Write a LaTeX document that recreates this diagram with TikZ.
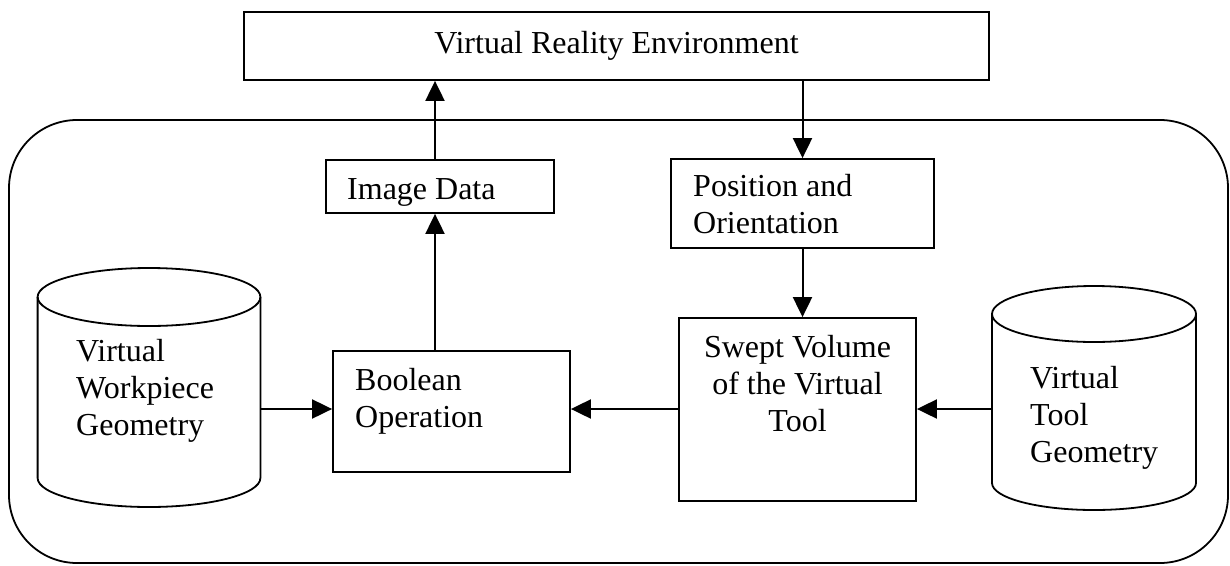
\documentclass[tikz,border=0pt]{standalone}
\usepackage{fontspec}
\setmainfont{Liberation Serif}
\usetikzlibrary{arrows.meta}
\tikzset{
  box/.style={draw, line width=1.8pt, inner sep=0pt},
  holder/.style={inner sep=0pt},
  outline/.style={line width=1.8pt},
  arr/.style={-{Triangle[length=20pt,width=19pt]}, line width=2pt},
  txt/.style={inner sep=0pt, align=left, font=\fontsize{32}{37}\selectfont},
}
\begin{document}
\begin{tikzpicture}[x=1pt,y=-1pt]
\useasboundingbox (0,0) rectangle (1230,565);
% outer system boundary
\node[box, rounded corners=68pt, minimum width=1219pt, minimum height=443pt] (sys) at (618.5,341.5) {};
% boxes
\node[box, minimum width=745pt, minimum height=68pt, font=\fontsize{32}{37}\selectfont] (vr) at (616.5,46) {Virtual Reality Environment};
\node[box, minimum width=228pt, minimum height=53pt] (img) at (440,186.5) {};
\node[box, minimum width=263pt, minimum height=89pt] (pos) at (802.5,203.5) {};
\node[box, minimum width=237pt, minimum height=121pt] (bool) at (451.5,411.5) {};
\node[box, minimum width=237pt, minimum height=183pt] (swept) at (797.5,409.5) {};
% cylinders
\node[holder, minimum width=222.8pt, minimum height=181pt] (wp) at (149,387.5) {};
\draw[outline] (37.6,297) -- (37.6,478) .. controls (37.6,494) and (87.5,507) .. (149,507)
  .. controls (210.5,507) and (260.4,494) .. (260.4,478) -- (260.4,297);
\draw[outline] (149,297) ellipse [x radius=111.4, y radius=29];
\node[holder, minimum width=204pt, minimum height=169pt] (tool) at (1094,398.5) {};
\draw[outline] (992,314) -- (992,483) .. controls (992,497.9) and (1037.7,510) .. (1094,510)
  .. controls (1150.3,510) and (1196,497.9) .. (1196,483) -- (1196,314);
\draw[outline] (1094,314) ellipse [x radius=102, y radius=28];
% texts (multi-line nodes: base anchor = last line)
\node[txt, anchor=base west] (imgT) at (347,199) {Image Data};
\node[txt, anchor=base west] (posT) at (693,233) {Position and\\Orientation};
\node[txt, anchor=base west] (boolT) at (355,427) {Boolean\\Operation};
\node[txt, anchor=base, align=center] (sweptT) at (797.5,431) {Swept Volume\\of the Virtual\\Tool};
\node[txt, anchor=base west] (wpT) at (76,435) {Virtual\\Workpiece\\Geometry};
\node[txt, anchor=base west] (toolT) at (1030,462) {Virtual\\Tool\\Geometry};
% connectors
\coordinate (ax) at (435,0);
\coordinate (ay) at (0,409);
\draw[arr] (img.north -| ax) -- (vr.south -| ax);
\draw[arr] (bool.north -| ax) -- (img.south -| ax);
\draw[arr] (vr.south -| pos.north) -- (pos.north);
\draw[arr] (pos.south) -- (pos.south |- swept.north);
\draw[arr] (swept.west |- ay) -- (bool.east |- ay);
\draw[arr] (wp.east |- ay) -- (bool.west |- ay);
\draw[arr] (tool.west |- ay) -- (swept.east |- ay);
\end{tikzpicture}
\end{document}
